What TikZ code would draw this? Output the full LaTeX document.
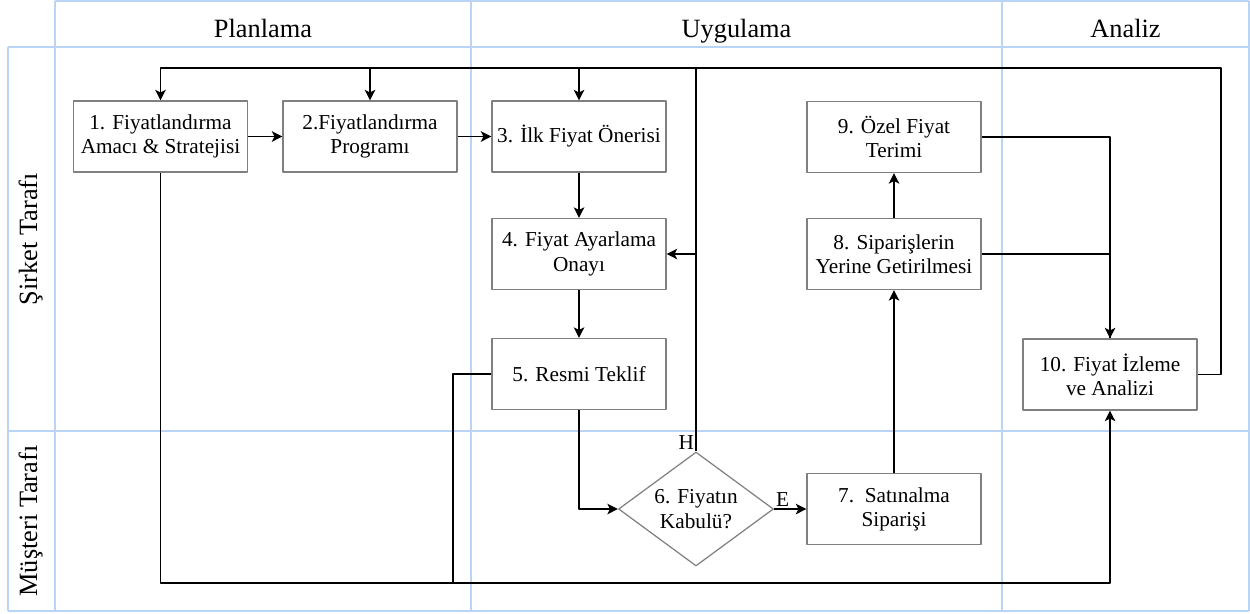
\documentclass[tikz,border=0pt]{standalone}
\usepackage{fontspec}
\setmainfont{Liberation Serif}
\usetikzlibrary{arrows.meta,shapes.geometric}
\definecolor{lanec}{RGB}{186,212,245}
\definecolor{boxc}{RGB}{128,128,128}
\tikzset{
	kutu/.style={draw=boxc,line width=0.7pt,fill=white,minimum width=3.48cm,minimum height=1.42cm,align=center,inner sep=2pt},
	karar/.style={diamond,draw=boxc,line width=0.7pt,fill=white,minimum width=3.1cm,minimum height=2.28cm,aspect=1.36,inner sep=0pt,align=center},
	hat/.style={line width=0.9pt},
	ok/.style={hat,-{Stealth[length=6pt,width=6pt,inset=1.5pt]}},
	baslik/.style={font=\fontsize{15}{18}\selectfont,anchor=base}
}
\begin{document}
\begin{tikzpicture}[x=0.02cm,y=-0.02cm,font=\fontsize{12.1}{13.8}\selectfont,line join=round]
	\useasboundingbox (0,0) rectangle (1250,613);
	% kulvarlar
	\draw[lanec,line width=0.9pt] (55,1)--(1249,1) (8,47)--(1249,47) (8,431)--(1249,431) (8,611)--(1249,611)
	(8,47)--(8,611) (55,1)--(55,611) (471,1)--(471,611) (1002,1)--(1002,611) (1249,1)--(1249,611);
	\node[baslik] (plan) at (263,37) {Planlama};
	\node[baslik] (uyg) at (736.5,37) {Uygulama};
	\node[baslik] (anl) at (1125.5,37) {Analiz};
	\node[baslik,rotate=90] (sirket) at (37,239) {Şirket Tarafı};
	\node[baslik,rotate=90] (musteri) at (37,521) {Müşteri Tarafı};
	% kutular
	\node[kutu] (n1) at (160.5,136.5) {1. Fiyatlandırma\\Amacı \& Stratejisi};
	\node[kutu] (n2) at (370,136.5) {2.Fiyatlandırma\\Programı};
	\node[kutu] (n3) at (579,136.5) {3. İlk Fiyat Önerisi};
	\node[kutu] (n4) at (579,254) {4. Fiyat Ayarlama\\Onayı};
	\node[kutu] (n5) at (579,374) {5. Resmi Teklif};
	\node[karar] (n6) at (696,509) {6. Fiyatın\\Kabulü?};
	\node[kutu] (n7) at (894,509) {7.\ \ Satınalma\\Siparişi};
	\node[kutu] (n8) at (894,254) {8. Siparişlerin\\Yerine Getirilmesi};
	\node[kutu] (n9) at (894,137) {9. Özel Fiyat\\Terimi};
	\node[kutu] (n10) at (1110,374.5) {10. Fiyat İzleme\\ve Analizi};
	\coordinate (tr) at (1221,68);
	\coordinate (bot) at (453,583);
	% baglantilar
	\draw[ok] (n10.east) -| (tr) -| (n1.north);
	\draw[ok] (n2.north |- tr) -- (n2.north);
	\draw[ok] (n3.north |- tr) -- (n3.north);
	\draw[ok] (n1) -- (n2);
	\draw[ok] (n2) -- (n3);
	\draw[ok] (n3) -- (n4);
	\draw[ok] (n4) -- (n5);
	\draw[ok] (n5.south) |- (n6.west);
	\draw[hat] (n6.north) -- (n6.north |- tr);
	\draw[ok] (n6.north |- n4.east) -- (n4.east);
	\node[anchor=south east,inner sep=1pt] (h) at (n6.north) {H};
	\draw[ok] (n6.east) -- (n7.west);
	\node[anchor=south west,inner sep=1pt] (e) at (n6.east) {E};
	\draw[ok] (n7) -- (n8);
	\draw[ok] (n8) -- (n9);
	\draw[ok] (n9.east) -| (n10.north);
	\draw[hat] (n8.east) -| (n10.north);
	\draw[ok] (n1.south) -- (n1.south |- bot) -| (n10.south);
	\draw[hat] (n5.west) -| (bot);
\end{tikzpicture}
\end{document}
